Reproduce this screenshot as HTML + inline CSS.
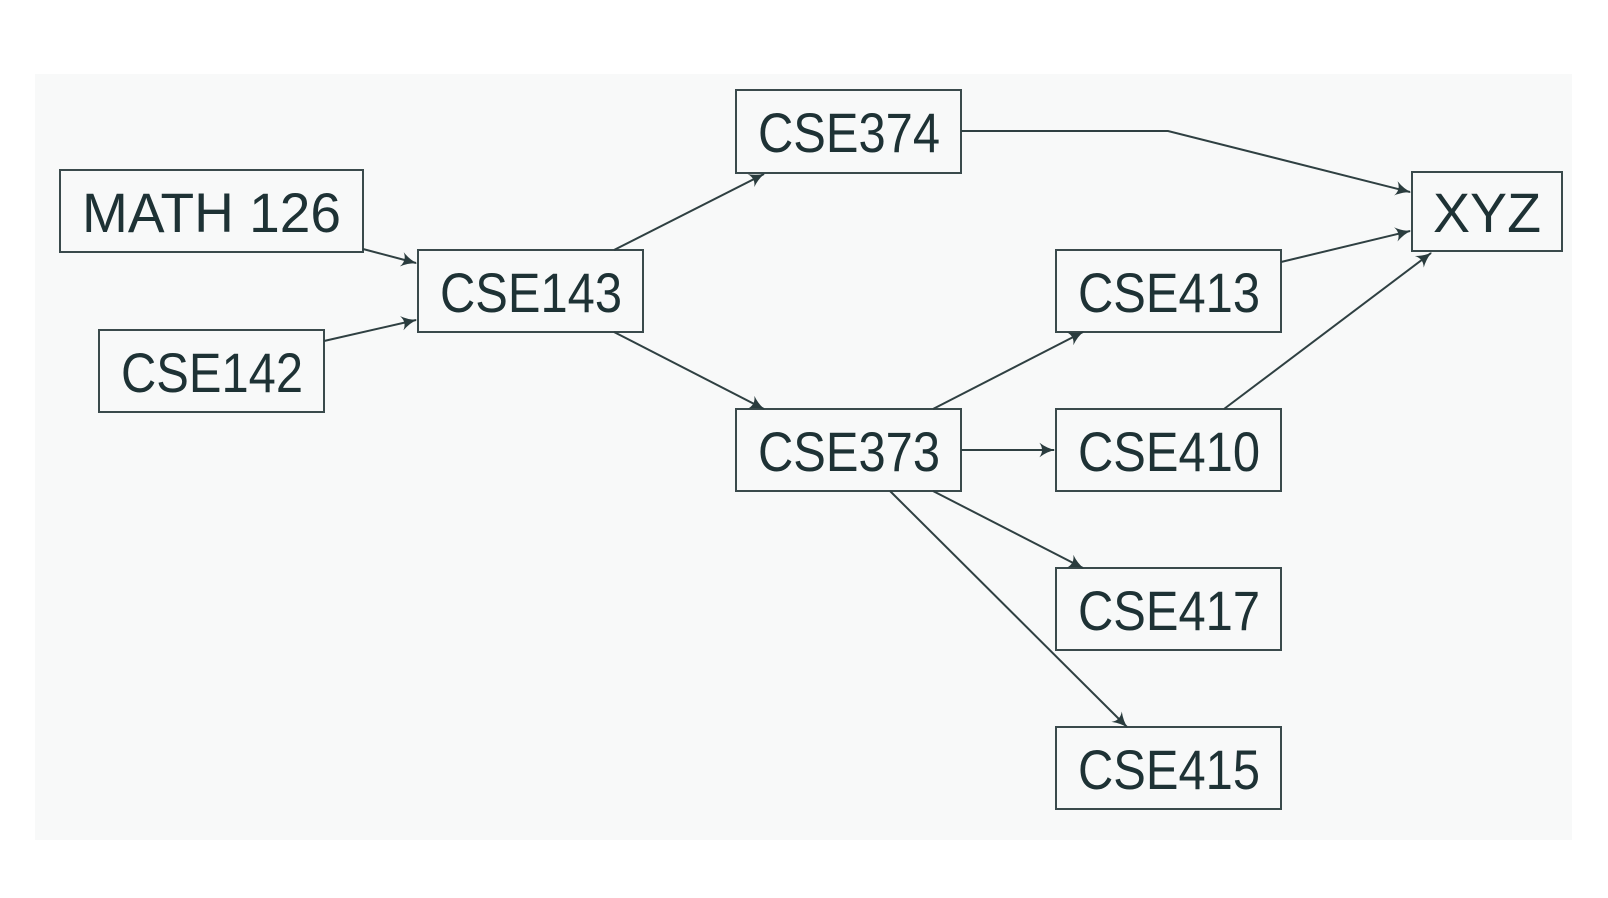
<!DOCTYPE html>
<html><head><meta charset="utf-8"><style>
html,body{margin:0;padding:0;background:#fff;}
svg{display:block;}
text{font-family:"Liberation Sans",sans-serif;font-size:56px;fill:#1e3235;}
</style></head><body>
<svg width="1608" height="898" viewBox="0 0 1608 898" xmlns="http://www.w3.org/2000/svg">
<defs>
<marker id="a" viewBox="0 0 12 12" refX="11" refY="6" markerWidth="16" markerHeight="16" markerUnits="userSpaceOnUse" orient="auto">
<path d="M0,0.5 Q6,5 12,6 Q6,7 0,11.5 Q4,6 0,0.5Z" fill="#2a3c3e"/>
</marker>
</defs>
<rect x="35" y="74" width="1537" height="766" fill="#f8f9f9"/>
<g fill="none" stroke="#3a4a4c" stroke-width="2">
<rect x="60" y="170" width="303" height="82"/>
<rect x="99" y="330" width="225" height="82"/>
<rect x="418" y="250" width="225" height="82"/>
<rect x="736" y="90" width="225" height="83"/>
<rect x="736" y="409" width="225" height="82"/>
<rect x="1056" y="250" width="225" height="82"/>
<rect x="1056" y="409" width="225" height="82"/>
<rect x="1056" y="568" width="225" height="82"/>
<rect x="1056" y="727" width="225" height="82"/>
<rect x="1412" y="172" width="150" height="79"/>
</g>
<g fill="none" stroke="#2f4042" stroke-width="2" marker-end="url(#a)">
<line x1="363" y1="249" x2="416" y2="263"/>
<line x1="324" y1="341" x2="416" y2="320"/>
<line x1="614" y1="250" x2="764" y2="174"/>
<line x1="614" y1="332" x2="764" y2="409"/>
<polyline points="961,131 1168,131 1410,192"/>
<line x1="1281" y1="262" x2="1410" y2="231"/>
<line x1="1224" y1="409" x2="1431" y2="253"/>
<line x1="933" y1="409" x2="1083" y2="332"/>
<line x1="961" y1="450" x2="1054" y2="450"/>
<line x1="933" y1="491" x2="1083" y2="568"/>
<line x1="890" y1="491" x2="1127" y2="727"/>
</g>
<text x="82" y="232" textLength="259" lengthAdjust="spacingAndGlyphs">MATH 126</text>
<text x="121" y="392" textLength="182" lengthAdjust="spacingAndGlyphs">CSE142</text>
<text x="440" y="312" textLength="182" lengthAdjust="spacingAndGlyphs">CSE143</text>
<text x="758" y="152" textLength="182" lengthAdjust="spacingAndGlyphs">CSE374</text>
<text x="758" y="471" textLength="182" lengthAdjust="spacingAndGlyphs">CSE373</text>
<text x="1078" y="312" textLength="182" lengthAdjust="spacingAndGlyphs">CSE413</text>
<text x="1078" y="471" textLength="182" lengthAdjust="spacingAndGlyphs">CSE410</text>
<text x="1078" y="630" textLength="182" lengthAdjust="spacingAndGlyphs">CSE417</text>
<text x="1078" y="789" textLength="182" lengthAdjust="spacingAndGlyphs">CSE415</text>
<text x="1433" y="232" textLength="108" lengthAdjust="spacingAndGlyphs">XYZ</text>
</svg>
</body></html>
